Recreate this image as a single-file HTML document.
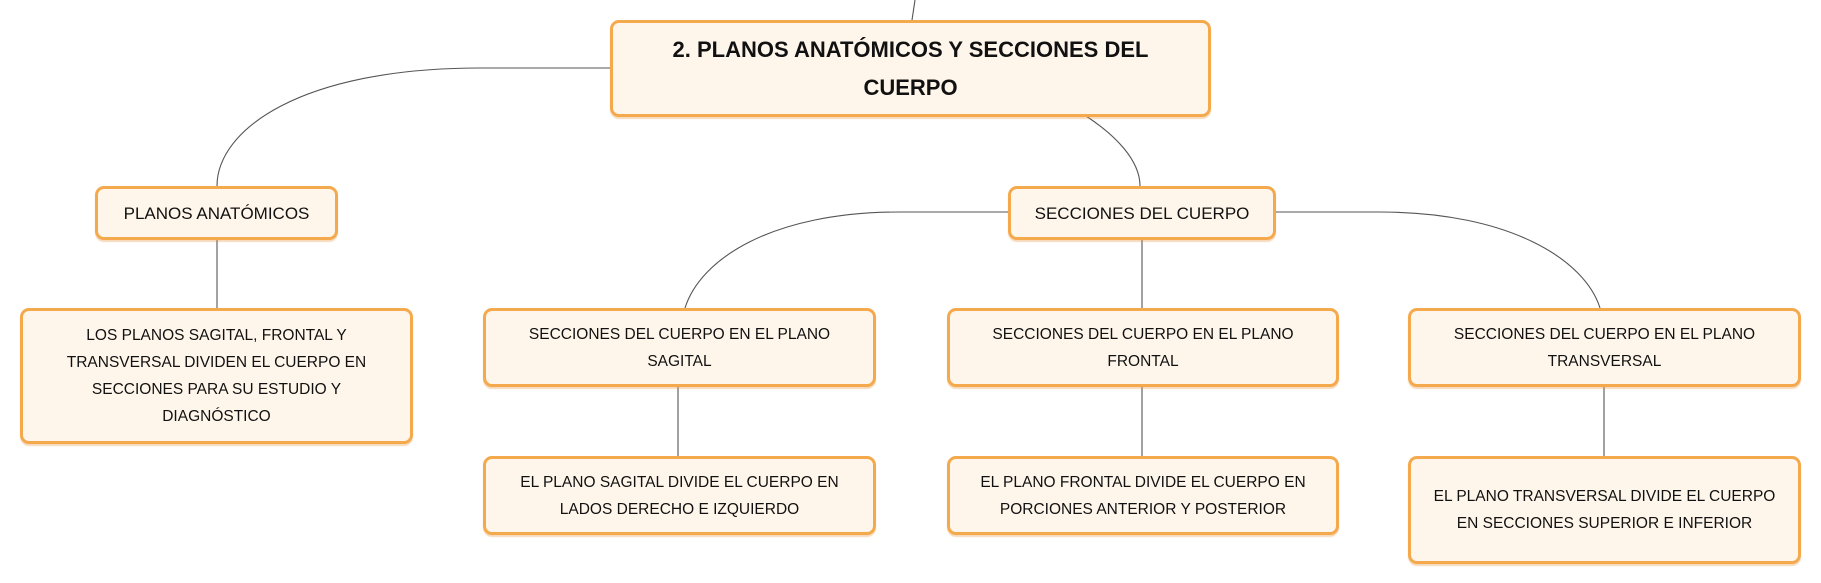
<!DOCTYPE html>
<html><head><meta charset="utf-8"><style>
body{margin:0;width:1821px;height:583px;background:#fff;position:relative;overflow:hidden;font-family:"Liberation Sans",sans-serif;}
.b{position:absolute;box-sizing:border-box;border:3px solid #f5a94d;border-radius:9px;background:#fff6eb;display:flex;align-items:center;justify-content:center;text-align:center;color:#111;font-size:15.5px;line-height:27px;padding:0 8px;box-shadow:0 2px 1px rgba(230,150,60,0.35);}
svg{position:absolute;left:0;top:0;}
</style></head><body>
<svg width="1821" height="583" fill="none" stroke="#555" stroke-width="1.1">
<path d="M915,0 L912,20"/>
<path d="M610,68 L480,68 C300,68 217,130 217,186"/>
<path d="M1086,116 C1115,135 1140,160 1140,186"/>
<path d="M217,239 L217,308"/>
<path d="M1008,212 L900,212 C770,212 700,260 685,308"/>
<path d="M1142,239 L1142,308"/>
<path d="M1275,212 L1380,212 C1510,212 1585,260 1600,308"/>
<path d="M678,386 L678,456"/>
<path d="M1142,386 L1142,456"/>
<path d="M1604,386 L1604,456"/>
</svg>
<div class="b" style="left:610px;top:20px;width:601px;height:97px;font-weight:bold;font-size:22px;line-height:38px;padding:0 30px">2. PLANOS ANATÓMICOS Y SECCIONES DEL CUERPO</div>
<div class="b" style="left:95px;top:186px;width:243px;height:54px;font-size:17px">PLANOS ANATÓMICOS</div>
<div class="b" style="left:1008px;top:186px;width:268px;height:54px;font-size:17px">SECCIONES DEL CUERPO</div>
<div class="b" style="left:20px;top:308px;width:393px;height:136px;padding:0 30px">LOS PLANOS SAGITAL, FRONTAL Y TRANSVERSAL DIVIDEN EL CUERPO EN SECCIONES PARA SU ESTUDIO Y DIAGNÓSTICO</div>
<div class="b" style="left:483px;top:308px;width:393px;height:79px;padding:0 30px">SECCIONES DEL CUERPO EN EL PLANO SAGITAL</div>
<div class="b" style="left:947px;top:308px;width:392px;height:79px;padding:0 30px">SECCIONES DEL CUERPO EN EL PLANO FRONTAL</div>
<div class="b" style="left:1408px;top:308px;width:393px;height:79px;padding:0 30px">SECCIONES DEL CUERPO EN EL PLANO TRANSVERSAL</div>
<div class="b" style="left:483px;top:456px;width:393px;height:79px;padding:0 14px">EL PLANO SAGITAL DIVIDE EL CUERPO EN LADOS DERECHO E IZQUIERDO</div>
<div class="b" style="left:947px;top:456px;width:392px;height:79px;padding:0 12px">EL PLANO FRONTAL DIVIDE EL CUERPO EN PORCIONES ANTERIOR Y POSTERIOR</div>
<div class="b" style="left:1408px;top:456px;width:393px;height:108px;padding:0 4px"><span style="display:inline-block;width:360px">EL PLANO TRANSVERSAL DIVIDE EL CUERPO EN SECCIONES SUPERIOR E INFERIOR</span></div>
</body></html>
